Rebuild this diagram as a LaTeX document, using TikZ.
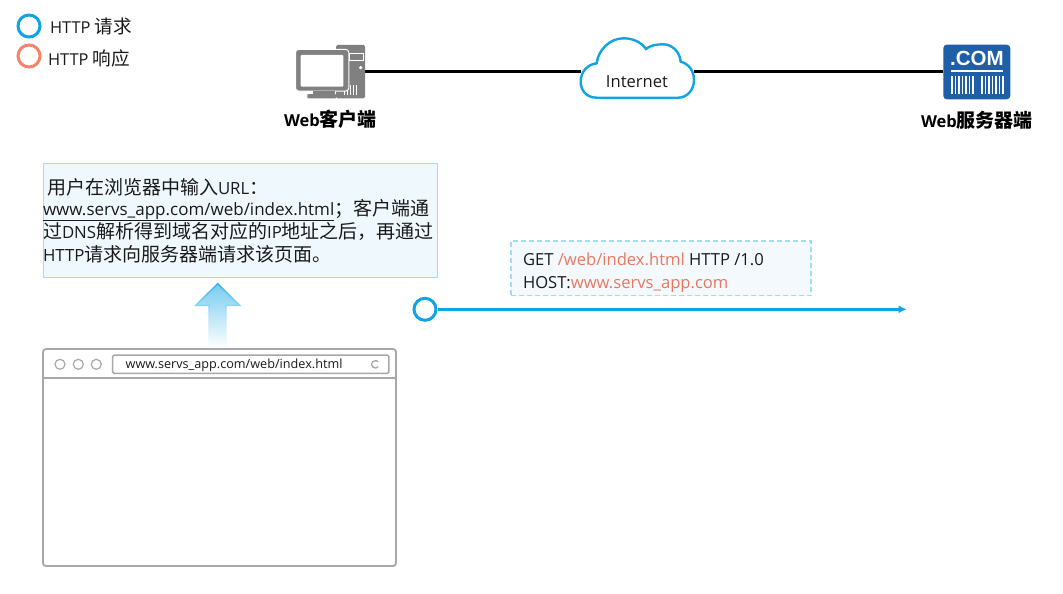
\documentclass[tikz,border=0pt]{standalone}
\usepackage{fontspec}
\setmainfont{Open Sans}
\newfontfamily\zh{Noto Sans CJK SC}
\usetikzlibrary{arrows.meta,shadings}
\definecolor{hblue}{HTML}{0FA5E5}
\definecolor{hsalmon}{HTML}{F5836A}
\definecolor{hred}{HTML}{E8785F}
\definecolor{icongray}{HTML}{808080}
\definecolor{srvblue}{HTML}{1F5FA8}
\definecolor{edgegray}{HTML}{A8A8A8}
\definecolor{txt}{HTML}{1A1A1A}
\definecolor{boxedge}{HTML}{9ADFF5}
\definecolor{boxfill}{HTML}{EFF9FD}
\definecolor{reqfill}{HTML}{F3F9FD}
\newcommand{\fs}[1]{\fontsize{#1}{#1}\selectfont}
\newcommand{\cn}[1]{{\zh\fs{19}#1}}
\tikzset{
  lbl/.style={inner sep=0,outer sep=0,text=txt,anchor=base west},
  clbl/.style={inner sep=0,outer sep=0,text=txt,anchor=center},
  ring/.style={circle,draw=#1,line width=3,fill=white,minimum size=22,inner sep=0},
  link/.style={line width=2.4,draw=black},
  winline/.style={draw=edgegray,line width=1.8},
  dot/.style={circle,draw=edgegray,line width=1.2,minimum size=10,inner sep=0},
  iconbox/.style={inner sep=0,outer sep=0},
}
\begin{document}
\begin{tikzpicture}[x=1pt,y=-1pt]
\useasboundingbox (0,0) rectangle (1063,594);
\fill[white] (0,0) rectangle (1063,594);
% legend
\node[ring=hblue] (lreq) at (29,26) {};
\node[ring=hsalmon] (lres) at (29,56) {};
\node[lbl] (lreqt) at (50,34) {\fs{16.4}HTTP {\zh\fs{18.6}请求}};
\node[lbl] (lrest) at (48,66) {\fs{16.4}HTTP {\zh\fs{18.6}响应}};
% anchors for icons
\node[iconbox,minimum width=69,minimum height=53] (client) at (330.5,71.7) {};
\node[iconbox,minimum width=67,minimum height=54.6] (server) at (976.8,71.7) {};
\node[iconbox,minimum width=113,minimum height=60] (cloud) at (637.3,71.7) {};
\draw[link] (client.east) -- (cloud.west);
\draw[link] (cloud.east) -- (server.west);
% computer
\fill[icongray,rounded corners=1.5] (336,45) rectangle (365,98.3);
\draw[white,line width=1] (349.3,53.3) rectangle (363.3,60.7);
\fill[white] (360.7,67.7) circle (1.8);
\foreach \x in {344,347,350,353,356}{\draw[white,line width=1] (\x,85) -- (\x,95);}
\fill[icongray,draw=white,line width=1,rounded corners=3] (295.5,49.5) rectangle (348.8,91);
\fill[white,rounded corners=1] (300.7,55) rectangle (343.3,86.7);
\fill[icongray] (313,91) rectangle (335,94);
\fill[icongray,rounded corners=.8] (307.3,94) rectangle (336,98.3);
\node[clbl,text=black] (clientl) at (330.5,119) {\fs{16.5}\bfseries Web{\zh\bfseries\fs{19}客户端}};
% cloud
\draw[hblue,line width=2.4,fill=white]
  (596.7,97.7) .. controls (586,97.7) and (580.7,90) .. (580.7,81.7)
  .. controls (580.7,72) and (587,64.5) .. (596.7,63.3)
  .. controls (598,50) and (610,38.3) .. (623.3,38.3)
  .. controls (633,38.3) and (641,42) .. (646,49)
  .. controls (650,45.5) and (656,44.3) .. (663.3,44.3)
  .. controls (672,44.3) and (680,52) .. (680.7,61.7)
  .. controls (689,64) and (694,71) .. (694,80)
  .. controls (694,90) and (687,97.7) .. (678.3,97.7)
  -- cycle;
\node[clbl] (inet) at (637,82) {\fs{16.6}Internet};
% server
\fill[srvblue,rounded corners=3.5] (943.3,44.7) rectangle (1010.3,99.3);
\node[inner sep=0,text=white] (dotcom) at (977,58) {\fs{20.5}\fontspec{Liberation Sans}\bfseries .COM};
\draw[white,line width=1.8] (950.7,70.7) -- (1003.3,70.7);
\foreach \x in {952,955.5,959,962.5,966,969.5,973,982,985.5,989,992.5,996,999.5,1003}{\draw[white,line width=1.1] (\x,76) -- (\x,94);}
\node[clbl,text=black] (serverl) at (977,120) {\fs{16.5}\bfseries Web{\zh\bfseries\fs{19}服务器端}};
% description box
\node[draw=boxedge,fill=boxfill,line width=1,minimum width=394,minimum height=114,inner sep=0] (desc) at (240,220) {};
\node[lbl] (d1) at (47,194) {\cn{用户在浏览器中输入}\fs{16.8}URL\cn{：}};
\node[lbl] (d2) at (43,215) {\fs{17}\underline{www.servs\_app.com/web/index.html}\cn{；客户端通}};
\node[lbl] (d3) at (43,238) {\cn{过}\fs{16.8}DNS\cn{解析得到域名对应的}\fs{16.8}IP\cn{地址之后，再通过}};
\node[lbl] (d4) at (43,261) {\fs{16.8}HTTP\cn{请求向服务器端请求该页面。}};
% block arrow
\path[top color=hblue!85,bottom color=white,middle color=hblue!30]
 (217.7,282.7) -- (241.3,306) -- (226.7,306) -- (226.7,348.3) -- (208.3,348.3) -- (208.3,306) -- (194,306) -- cycle;
\path[top color=hblue!55,bottom color=white]
 (217.7,285) -- (237,304.5) -- (225,304.5) -- (225,348.3) -- (210,348.3) -- (210,304.5) -- (198,304.5) -- cycle;
% browser
\node[draw=edgegray,line width=1.8,rounded corners=3,minimum width=353,minimum height=217,inner sep=0] (win) at (219.5,457.5) {};
\draw[winline,line width=1.5] (43,378) -- (396,378);
\node[dot] (b1) at (60,364.3) {};
\node[dot] (b2) at (78.3,364.3) {};
\node[dot] (b3) at (96.3,364.3) {};
\node[draw=edgegray,line width=1.5,rounded corners=1.5,minimum width=276.3,minimum height=18.3,inner sep=0] (addr) at (250.8,364.2) {};
\node[lbl] (addrt) at (125.7,368.7) {\fs{12.65}www.servs\_app.com/web/index.html};
\draw[edgegray,line width=1.3] (378.3,366.7) arc (40:320:3.8);
% request
\node[draw=boxedge,dash pattern=on 5pt off 3pt,fill=reqfill,line width=1.2,minimum width=300,minimum height=54.7,inner sep=0] (req) at (661,268.3) {};
\node[lbl] (r1) at (523,265) {\fs{16.6}GET \textcolor{hred}{/web/index.html} HTTP /1.0};
\node[lbl] (r2) at (523,288) {\fs{16.6}HOST:\textcolor{hred}{www.servs\_app.com}};
\node[ring=hblue] (start) at (425,309.3) {};
\coordinate (end) at (906.7,309.3);
\draw[hblue,line width=2.6,-{Latex[length=8,width=8]}] (start.east) -- (end);
\end{tikzpicture}
\end{document}
